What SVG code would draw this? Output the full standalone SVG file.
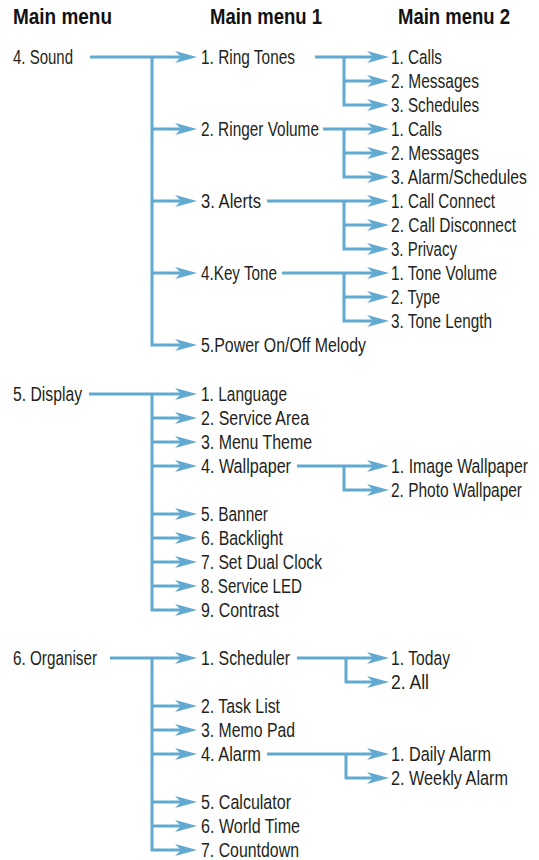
<svg xmlns="http://www.w3.org/2000/svg" width="539" height="860" viewBox="0 0 539 860">
<style>
.t{font-family:"Liberation Sans",Arial,sans-serif;font-size:20.5px;fill:#231f20}
.h{font-family:"Liberation Sans",Arial,sans-serif;font-size:22px;font-weight:bold;fill:#111}
.c{fill:none;stroke:#62a9d2;stroke-width:3;stroke-linejoin:miter;marker-end:url(#arr)}
</style>
<defs>
<marker id="arr" markerUnits="userSpaceOnUse" markerWidth="22" markerHeight="12" viewBox="0 0 22 12" refX="12" refY="6" orient="auto"><path d="M0,0 L22,6 L0,12 L6,6 Z" fill="#62a9d2"/></marker>
</defs>
<rect width="539" height="860" fill="#fff"/>
<g id="headers">
<text class="h" x="13" y="24" textLength="99" lengthAdjust="spacingAndGlyphs">Main menu</text>
<text class="h" x="210" y="24" textLength="112" lengthAdjust="spacingAndGlyphs">Main menu 1</text>
<text class="h" x="398" y="24" textLength="112" lengthAdjust="spacingAndGlyphs">Main menu 2</text>
</g>
<g id="connectors">
<path class="c" d="M90,57 H187"/>
<path class="c" d="M152,129 H187"/>
<path class="c" d="M152,201 H187"/>
<path class="c" d="M152,273 H187"/>
<path class="c" d="M152,57 V345 H187"/>
<path class="c" d="M315,57 H379"/>
<path class="c" d="M344,81 H379"/>
<path class="c" d="M344,57 V105 H379"/>
<path class="c" d="M323,129 H379"/>
<path class="c" d="M344,153 H379"/>
<path class="c" d="M344,129 V177 H379"/>
<path class="c" d="M267,201 H379"/>
<path class="c" d="M344,225 H379"/>
<path class="c" d="M344,201 V249 H379"/>
<path class="c" d="M282,273 H379"/>
<path class="c" d="M344,297 H379"/>
<path class="c" d="M344,273 V321 H379"/>
<path class="c" d="M89,394 H187"/>
<path class="c" d="M152,418 H187"/>
<path class="c" d="M152,442 H187"/>
<path class="c" d="M152,466 H187"/>
<path class="c" d="M152,514 H187"/>
<path class="c" d="M152,538 H187"/>
<path class="c" d="M152,562 H187"/>
<path class="c" d="M152,586 H187"/>
<path class="c" d="M152,394 V610 H187"/>
<path class="c" d="M297,466 H379"/>
<path class="c" d="M344,466 V490 H379"/>
<path class="c" d="M110,658 H187"/>
<path class="c" d="M152,706 H187"/>
<path class="c" d="M152,730 H187"/>
<path class="c" d="M152,754 H187"/>
<path class="c" d="M152,802 H187"/>
<path class="c" d="M152,826 H187"/>
<path class="c" d="M152,658 V850 H187"/>
<path class="c" d="M297,658 H379"/>
<path class="c" d="M346,658 V682 H379"/>
<path class="c" d="M267,754 H379"/>
<path class="c" d="M346,754 V778 H379"/>
</g>
<g id="sound"><text class="t" x="13" y="64" textLength="60" lengthAdjust="spacingAndGlyphs">4. Sound</text></g>
<g id="ring-tones"><text class="t" x="201" y="64" textLength="94" lengthAdjust="spacingAndGlyphs">1. Ring Tones</text></g>
<g id="ringer-volume"><text class="t" x="201" y="136" textLength="118" lengthAdjust="spacingAndGlyphs">2. Ringer Volume</text></g>
<g id="alerts"><text class="t" x="201" y="208" textLength="60" lengthAdjust="spacingAndGlyphs">3. Alerts</text></g>
<g id="key-tone"><text class="t" x="201" y="280" textLength="76" lengthAdjust="spacingAndGlyphs">4.Key Tone</text></g>
<g id="power-melody"><text class="t" x="201" y="352" textLength="165" lengthAdjust="spacingAndGlyphs">5.Power On/Off Melody</text></g>
<g id="rt-calls"><text class="t" x="391" y="64" textLength="51" lengthAdjust="spacingAndGlyphs">1. Calls</text></g>
<g id="rt-messages"><text class="t" x="391" y="88" textLength="88" lengthAdjust="spacingAndGlyphs">2. Messages</text></g>
<g id="rt-schedules"><text class="t" x="391" y="112" textLength="88" lengthAdjust="spacingAndGlyphs">3. Schedules</text></g>
<g id="rv-calls"><text class="t" x="391" y="136" textLength="51" lengthAdjust="spacingAndGlyphs">1. Calls</text></g>
<g id="rv-messages"><text class="t" x="391" y="160" textLength="88" lengthAdjust="spacingAndGlyphs">2. Messages</text></g>
<g id="rv-alarm"><text class="t" x="391" y="184" textLength="136" lengthAdjust="spacingAndGlyphs">3. Alarm/Schedules</text></g>
<g id="al-connect"><text class="t" x="391" y="208" textLength="104" lengthAdjust="spacingAndGlyphs">1. Call Connect</text></g>
<g id="al-disconnect"><text class="t" x="391" y="232" textLength="125" lengthAdjust="spacingAndGlyphs">2. Call Disconnect</text></g>
<g id="al-privacy"><text class="t" x="391" y="256" textLength="66" lengthAdjust="spacingAndGlyphs">3. Privacy</text></g>
<g id="kt-volume"><text class="t" x="391" y="280" textLength="106" lengthAdjust="spacingAndGlyphs">1. Tone Volume</text></g>
<g id="kt-type"><text class="t" x="391" y="304" textLength="49" lengthAdjust="spacingAndGlyphs">2. Type</text></g>
<g id="kt-length"><text class="t" x="391" y="328" textLength="101" lengthAdjust="spacingAndGlyphs">3. Tone Length</text></g>
<g id="display"><text class="t" x="13" y="401" textLength="69" lengthAdjust="spacingAndGlyphs">5. Display</text></g>
<g id="language"><text class="t" x="201" y="401" textLength="86" lengthAdjust="spacingAndGlyphs">1. Language</text></g>
<g id="service-area"><text class="t" x="201" y="425" textLength="108" lengthAdjust="spacingAndGlyphs">2. Service Area</text></g>
<g id="menu-theme"><text class="t" x="201" y="449" textLength="111" lengthAdjust="spacingAndGlyphs">3. Menu Theme</text></g>
<g id="wallpaper"><text class="t" x="201" y="473" textLength="90" lengthAdjust="spacingAndGlyphs">4. Wallpaper</text></g>
<g id="banner"><text class="t" x="201" y="521" textLength="67" lengthAdjust="spacingAndGlyphs">5. Banner</text></g>
<g id="backlight"><text class="t" x="201" y="545" textLength="82" lengthAdjust="spacingAndGlyphs">6. Backlight</text></g>
<g id="dual-clock"><text class="t" x="201" y="569" textLength="121" lengthAdjust="spacingAndGlyphs">7. Set Dual Clock</text></g>
<g id="service-led"><text class="t" x="201" y="593" textLength="101" lengthAdjust="spacingAndGlyphs">8. Service LED</text></g>
<g id="contrast"><text class="t" x="201" y="617" textLength="78" lengthAdjust="spacingAndGlyphs">9. Contrast</text></g>
<g id="image-wallpaper"><text class="t" x="391" y="473" textLength="137" lengthAdjust="spacingAndGlyphs">1. Image Wallpaper</text></g>
<g id="photo-wallpaper"><text class="t" x="391" y="497" textLength="131" lengthAdjust="spacingAndGlyphs">2. Photo Wallpaper</text></g>
<g id="organiser"><text class="t" x="13" y="665" textLength="84" lengthAdjust="spacingAndGlyphs">6. Organiser</text></g>
<g id="scheduler"><text class="t" x="201" y="665" textLength="89" lengthAdjust="spacingAndGlyphs">1. Scheduler</text></g>
<g id="task-list"><text class="t" x="201" y="713" textLength="79" lengthAdjust="spacingAndGlyphs">2. Task List</text></g>
<g id="memo-pad"><text class="t" x="201" y="737" textLength="94" lengthAdjust="spacingAndGlyphs">3. Memo Pad</text></g>
<g id="alarm"><text class="t" x="201" y="761" textLength="60" lengthAdjust="spacingAndGlyphs">4. Alarm</text></g>
<g id="calculator"><text class="t" x="201" y="809" textLength="90" lengthAdjust="spacingAndGlyphs">5. Calculator</text></g>
<g id="world-time"><text class="t" x="201" y="833" textLength="99" lengthAdjust="spacingAndGlyphs">6. World Time</text></g>
<g id="countdown"><text class="t" x="201" y="857" textLength="98" lengthAdjust="spacingAndGlyphs">7. Countdown</text></g>
<g id="today"><text class="t" x="391" y="665" textLength="59" lengthAdjust="spacingAndGlyphs">1. Today</text></g>
<g id="all"><text class="t" x="391" y="689" textLength="38" lengthAdjust="spacingAndGlyphs">2. All</text></g>
<g id="daily-alarm"><text class="t" x="391" y="761" textLength="100" lengthAdjust="spacingAndGlyphs">1. Daily Alarm</text></g>
<g id="weekly-alarm"><text class="t" x="391" y="785" textLength="117" lengthAdjust="spacingAndGlyphs">2. Weekly Alarm</text></g>
</svg>
